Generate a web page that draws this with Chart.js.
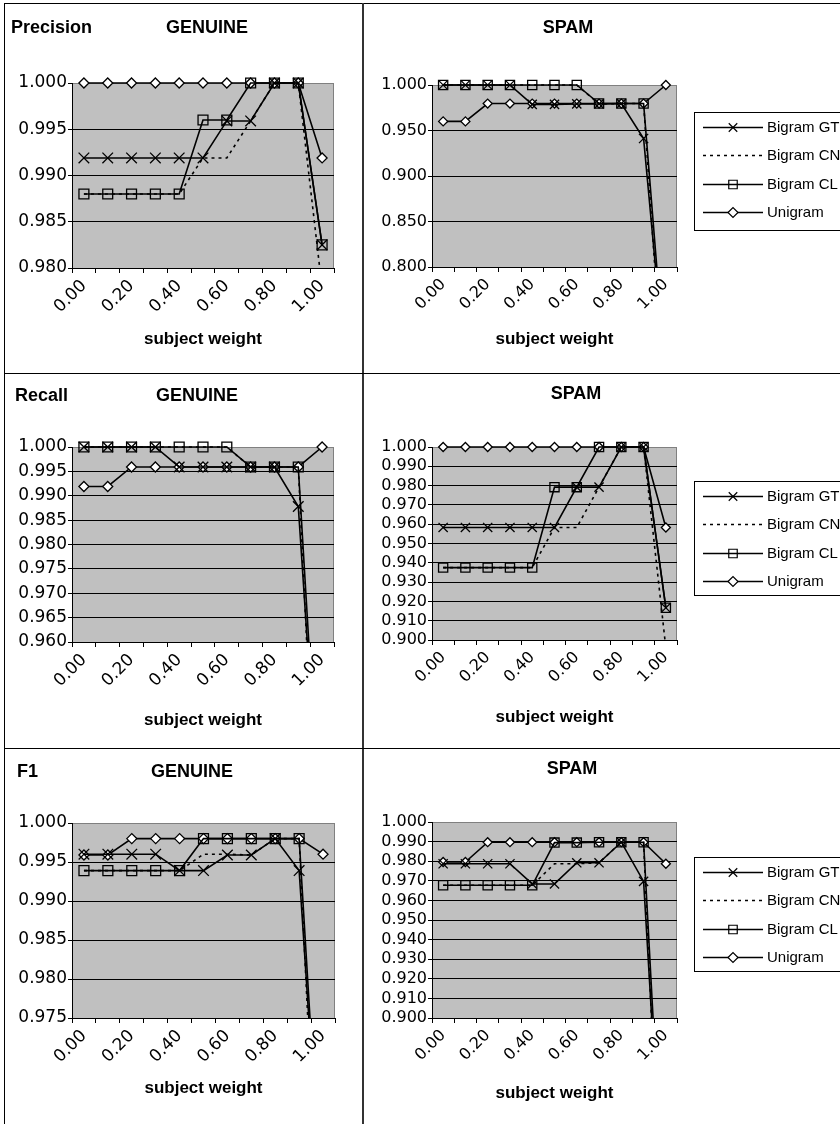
<!DOCTYPE html>
<html>
<head>
<meta charset="utf-8">
<script src="https://cdn.jsdelivr.net/npm/chart.js@4.4.1/dist/chart.umd.min.js"></script>
<style>
  body { margin: 0; background: #fff; }
  #page { position: relative; width: 840px; height: 1124px; overflow: hidden;
          font-family: "Liberation Sans", Arial, sans-serif; }
  #page canvas { position: absolute; }
  .rule { position: absolute; background: #000; }
  .ttl { position: absolute; font-weight: bold; font-size: 18px; line-height: 18px; white-space: nowrap; }
</style>
</head>
<body>
<div id="page">
  <div class="rule" style="left:4px;top:3px;width:836px;height:1px"></div>
  <div class="rule" style="left:4px;top:3px;width:1px;height:1121px"></div>
  <div class="rule" style="left:362px;top:3px;width:2px;height:1121px;background:#333"></div>
  <div class="rule" style="left:4px;top:373px;width:836px;height:1px"></div>
  <div class="rule" style="left:4px;top:748px;width:836px;height:1px"></div>
</div>
<script>
// x categories (subject weight) - only every other one gets a label
const categories = ['0.00', '0.10', '0.20', '0.30', '0.40', '0.50', '0.60', '0.70', '0.80', '0.90', '1.00'];
const seriesNames = ['Bigram GT', 'Bigram CN', 'Bigram CL', 'Unigram'];

// Precision
const precGenGT  = [0.9919, 0.9919, 0.9919, 0.9919, 0.9919, 0.9919, 0.9959, 0.9959, 1.0000, 1.0000, 0.9825];
const precGenCN  = [0.9880, 0.9880, 0.9880, 0.9880, 0.9880, 0.9919, 0.9919, 0.9959, 1.0000, 1.0000, 0.9778];
const precGenCL  = [0.9880, 0.9880, 0.9880, 0.9880, 0.9880, 0.9960, 0.9960, 1.0000, 1.0000, 1.0000, 0.9825];
const precGenUni = [1.0000, 1.0000, 1.0000, 1.0000, 1.0000, 1.0000, 1.0000, 1.0000, 1.0000, 1.0000, 0.9919];

const precSpamGT  = [1.0000, 1.0000, 1.0000, 1.0000, 0.9787, 0.9787, 0.9792, 0.9792, 0.9796, 0.9412, 0.6769];
const precSpamCN  = [1.0000, 1.0000, 1.0000, 1.0000, 1.0000, 1.0000, 1.0000, 0.9792, 0.9796, 0.9796, 0.6232];
const precSpamCL  = [1.0000, 1.0000, 1.0000, 1.0000, 1.0000, 1.0000, 1.0000, 0.9796, 0.9796, 0.9796, 0.6769];
const precSpamUni = [0.9600, 0.9600, 0.9796, 0.9796, 0.9796, 0.9796, 0.9796, 0.9796, 0.9796, 0.9796, 1.0000];

// Recall
const recGenGT  = [1.0000, 1.0000, 1.0000, 1.0000, 0.9959, 0.9959, 0.9959, 0.9959, 0.9959, 0.9878, 0.9146];
const recGenCN  = [1.0000, 1.0000, 1.0000, 1.0000, 1.0000, 1.0000, 1.0000, 0.9959, 0.9959, 0.9959, 0.8943];
const recGenCL  = [1.0000, 1.0000, 1.0000, 1.0000, 1.0000, 1.0000, 1.0000, 0.9959, 0.9959, 0.9959, 0.9146];
const recGenUni = [0.9919, 0.9919, 0.9959, 0.9959, 0.9959, 0.9959, 0.9959, 0.9959, 0.9959, 0.9959, 1.0000];

const recSpamGT  = [0.9583, 0.9583, 0.9583, 0.9583, 0.9583, 0.9583, 0.9792, 0.9792, 1.0000, 1.0000, 0.9167];
const recSpamCN  = [0.9375, 0.9375, 0.9375, 0.9375, 0.9375, 0.9583, 0.9583, 0.9792, 1.0000, 1.0000, 0.8958];
const recSpamCL  = [0.9375, 0.9375, 0.9375, 0.9375, 0.9375, 0.9792, 0.9792, 1.0000, 1.0000, 1.0000, 0.9167];
const recSpamUni = [1.0000, 1.0000, 1.0000, 1.0000, 1.0000, 1.0000, 1.0000, 1.0000, 1.0000, 1.0000, 0.9583];

// F1
const f1GenGT  = [0.9960, 0.9960, 0.9960, 0.9960, 0.9939, 0.9939, 0.9959, 0.9959, 0.9980, 0.9939, 0.9474];
const f1GenCN  = [0.9939, 0.9939, 0.9939, 0.9939, 0.9939, 0.9960, 0.9960, 0.9959, 0.9980, 0.9980, 0.9342];
const f1GenCL  = [0.9939, 0.9939, 0.9939, 0.9939, 0.9939, 0.9980, 0.9980, 0.9980, 0.9980, 0.9980, 0.9474];
const f1GenUni = [0.9959, 0.9959, 0.9980, 0.9980, 0.9980, 0.9980, 0.9980, 0.9980, 0.9980, 0.9980, 0.9960];

const f1SpamGT  = [0.9787, 0.9787, 0.9787, 0.9787, 0.9684, 0.9684, 0.9792, 0.9792, 0.9897, 0.9697, 0.7788];
const f1SpamCN  = [0.9677, 0.9677, 0.9677, 0.9677, 0.9677, 0.9787, 0.9787, 0.9792, 0.9897, 0.9897, 0.7350];
const f1SpamCL  = [0.9677, 0.9677, 0.9677, 0.9677, 0.9677, 0.9895, 0.9895, 0.9897, 0.9897, 0.9897, 0.7788];
const f1SpamUni = [0.9796, 0.9796, 0.9897, 0.9897, 0.9897, 0.9897, 0.9897, 0.9897, 0.9897, 0.9897, 0.9787];

const page = document.getElementById('page');

// grey plot area with a grey frame, like the old Excel charts
const plotFrame = {
  id: 'plotFrame',
  beforeDraw(chart) {
    const { ctx, chartArea: a } = chart;
    ctx.save();
    ctx.fillStyle = '#c0c0c0';
    ctx.fillRect(a.left, a.top, a.right - a.left, a.bottom - a.top);
    ctx.strokeStyle = '#808080';
    ctx.lineWidth = 1;
    ctx.strokeRect(Math.round(a.left) + 0.5, Math.round(a.top) + 0.5,
                   Math.round(a.right - a.left) - 1, Math.round(a.bottom - a.top));
    ctx.restore();
  }
};

// boxed legend with line + marker samples
const boxLegend = {
  id: 'boxLegend',
  afterDraw(chart, args, opts) {
    if (!opts.box) return;
    const ctx = chart.ctx;
    const [x, top, bottom] = opts.box;
    ctx.save();
    ctx.strokeStyle = '#000';
    ctx.lineWidth = 1;
    ctx.strokeRect(x + 0.5, top + 0.5, chart.width, bottom - top);
    chart.data.datasets.forEach((ds, i) => {
      const y = Math.round(top + 15 + i * 28.3) + 0.5;
      ctx.strokeStyle = '#000';
      ctx.lineWidth = 1.3;
      ctx.setLineDash(ds.borderDash);
      ctx.beginPath();
      ctx.moveTo(x + 9, y);
      ctx.lineTo(x + 69, y);
      ctx.stroke();
      ctx.setLineDash([]);
      if (ds.pointRadius > 0) {
        ctx.fillStyle = ds.pointBackgroundColor;
        ctx.lineWidth = 1.2;
        Chart.helpers.drawPoint(ctx, { pointStyle: ds.pointStyle, rotation: 0,
          radius: ds.pointStyle === 'rectRot' ? 5 : 6, borderWidth: 1.2 }, x + 39, y);
      }
      ctx.fillStyle = '#000';
      ctx.font = '15px "Liberation Sans", Arial, sans-serif';
      ctx.textBaseline = 'middle';
      ctx.fillText(ds.label, x + 73, y);
    });
    ctx.restore();
  }
};

function makeDatasets(values, big) {
  const looks = [
    { pointStyle: 'crossRot', pointRadius: big ? 7.5 : 6.5, borderDash: [], fill: 'rgba(0,0,0,0)' },
    { pointStyle: 'circle', pointRadius: 0, borderDash: [3, 4], fill: 'rgba(0,0,0,0)' },
    { pointStyle: 'rect', pointRadius: big ? 7 : 6.5, borderDash: [], fill: 'rgba(0,0,0,0)' },
    { pointStyle: 'rectRot', pointRadius: big ? 5 : 4.5, borderDash: [], fill: '#ffffff' }
  ];
  return values.map((data, i) => ({
    label: seriesNames[i],
    data: data,
    borderColor: '#000',
    borderWidth: 1.6,
    borderDash: looks[i].borderDash,
    pointStyle: looks[i].pointStyle,
    pointRadius: looks[i].pointRadius,
    pointBorderColor: '#000',
    pointBackgroundColor: looks[i].fill,
    pointBorderWidth: 1.3,
    clip: { left: 12, top: 12, right: 12, bottom: 0 }
  }));
}

function makeChart(spec) {
  const [cx, cy, cw, ch] = spec.cell;
  const [pl, pt, pr, pb] = spec.plot;
  const big = cw < 400;
  const tickSize = big ? 17 : 16;
  const axisTitleSize = 17;
  const xh = spec.axisTitleY + axisTitleSize * 1.2 / 2 - pb;

  const canvas = document.createElement('canvas');
  canvas.width = cw;
  canvas.height = ch;
  canvas.style.left = cx + 'px';
  canvas.style.top = cy + 'px';
  page.appendChild(canvas);

  spec.titles.forEach(t => {
    const d = document.createElement('div');
    d.className = 'ttl';
    d.textContent = t.text;
    d.style.left = t.x + 'px';
    d.style.top = (t.y - 9) + 'px';
    if (t.center) d.style.transform = 'translateX(-50%)';
    page.appendChild(d);
  });

  const tickFont = { family: 'DejaVu Sans', size: tickSize };
  const yMax = spec.yMax;

  new Chart(canvas, {
    type: 'line',
    data: { labels: categories, datasets: makeDatasets(spec.values, big) },
    plugins: [plotFrame, boxLegend],
    options: {
      responsive: false,
      animation: false,
      devicePixelRatio: 1,
      layout: {
        padding: {
          left: 0,
          top: pt - cy,
          right: cx + cw - pr,
          bottom: ch - (pb - cy) - xh
        }
      },
      plugins: {
        legend: { display: false },
        title: { display: false },
        tooltip: { enabled: false },
        boxLegend: { box: spec.legend ? [spec.legend[0] - cx, spec.legend[1] - cy, spec.legend[2] - cy] : null }
      },
      scales: {
        x: {
          offset: true,
          grid: { offset: true, drawOnChartArea: false, drawTicks: true, tickLength: 5, color: '#000' },
          border: { color: '#000', width: 1 },
          ticks: {
            autoSkip: false, minRotation: 45, maxRotation: 45, padding: 3,
            color: '#000', font: tickFont,
            callback: function (value, index) { return index % 2 === 0 ? categories[index] : ''; }
          },
          title: {
            display: true, text: 'subject weight', color: '#000', padding: 0,
            font: { family: 'Liberation Sans', size: axisTitleSize, weight: 'bold', lineHeight: 1.2 }
          },
          afterFit: (scale) => { scale.height = xh; }
        },
        y: {
          min: spec.yMin,
          max: yMax,
          grid: {
            drawTicks: true, tickLength: 4, tickColor: '#000',
            color: (c) => (c.tick && c.tick.value > yMax - 1e-9 ? '#808080' : '#000')
          },
          border: { color: '#000', width: 1 },
          ticks: {
            stepSize: spec.yStep, autoSkip: false, padding: 1, color: '#000', font: tickFont,
            callback: (v) => v.toFixed(3)
          },
          afterFit: (scale) => { scale.width = pl - cx; }
        }
      }
    }
  });
}

const LEFT = [5, 364];
const WIDTH = [358, 476];

makeChart({
  cell: [LEFT[0], 4, WIDTH[0], 369], plot: [72, 83, 334, 268], axisTitleY: 339,
  yMin: 0.98, yMax: 1.0, yStep: 0.005,
  values: [precGenGT, precGenCN, precGenCL, precGenUni],
  titles: [{ text: 'Precision', x: 11, y: 27 }, { text: 'GENUINE', x: 207, y: 27, center: true }]
});
makeChart({
  cell: [LEFT[1], 4, WIDTH[1], 369], plot: [432, 85, 677, 267], axisTitleY: 339,
  yMin: 0.8, yMax: 1.0, yStep: 0.05, legend: [694, 112, 230],
  values: [precSpamGT, precSpamCN, precSpamCL, precSpamUni],
  titles: [{ text: 'SPAM', x: 568, y: 27, center: true }]
});
makeChart({
  cell: [LEFT[0], 374, WIDTH[0], 374], plot: [72, 447, 334, 642], axisTitleY: 720,
  yMin: 0.96, yMax: 1.0, yStep: 0.005,
  values: [recGenGT, recGenCN, recGenCL, recGenUni],
  titles: [{ text: 'Recall', x: 15, y: 395 }, { text: 'GENUINE', x: 197, y: 395, center: true }]
});
makeChart({
  cell: [LEFT[1], 374, WIDTH[1], 374], plot: [432, 447, 677, 640], axisTitleY: 717,
  yMin: 0.9, yMax: 1.0, yStep: 0.01, legend: [694, 481, 595],
  values: [recSpamGT, recSpamCN, recSpamCL, recSpamUni],
  titles: [{ text: 'SPAM', x: 576, y: 393, center: true }]
});
makeChart({
  cell: [LEFT[0], 749, WIDTH[0], 375], plot: [72, 823, 335, 1018], axisTitleY: 1088,
  yMin: 0.975, yMax: 1.0, yStep: 0.005,
  values: [f1GenGT, f1GenCN, f1GenCL, f1GenUni],
  titles: [{ text: 'F1', x: 17, y: 771 }, { text: 'GENUINE', x: 192, y: 771, center: true }]
});
makeChart({
  cell: [LEFT[1], 749, WIDTH[1], 375], plot: [432, 822, 677, 1018], axisTitleY: 1093,
  yMin: 0.9, yMax: 1.0, yStep: 0.01, legend: [694, 857, 971],
  values: [f1SpamGT, f1SpamCN, f1SpamCL, f1SpamUni],
  titles: [{ text: 'SPAM', x: 572, y: 768, center: true }]
});
</script>
</body>
</html>
